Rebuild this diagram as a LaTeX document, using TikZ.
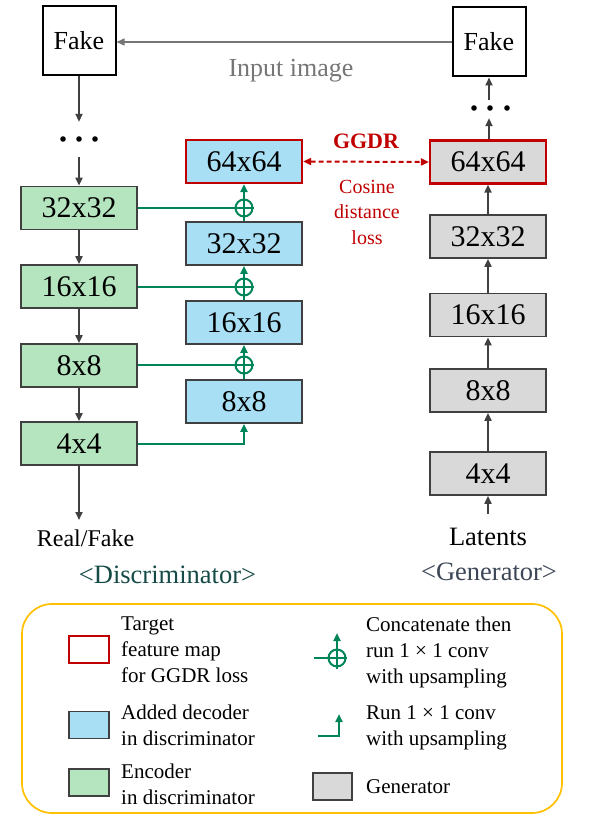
\documentclass[tikz,border=0pt]{standalone}
\usepackage{fontspec}
\setmainfont{Liberation Serif}
\usetikzlibrary{arrows.meta}
\definecolor{bord}{HTML}{404040}
\definecolor{gfill}{HTML}{B5E5BE}
\definecolor{bfill}{HTML}{A9DFF5}
\definecolor{rfill}{HTML}{D9D9D9}
\definecolor{redc}{HTML}{C00000}
\definecolor{grn}{HTML}{00845A}
\definecolor{legc}{HTML}{FFC000}
\definecolor{inpc}{HTML}{767676}
\definecolor{discc}{HTML}{154A46}
\definecolor{genc}{HTML}{3C4656}
\tikzset{
  blk/.style={draw=bord, line width=1.7pt, minimum width=116pt, minimum height=43pt, inner sep=0pt,
    font=\fontsize{30}{36}\selectfont},
  gbox/.style={blk, fill=gfill},
  bbox/.style={blk, fill=bfill},
  rbox/.style={blk, fill=rfill},
  tgt/.style={draw=redc, line width=2.2pt},
  fakebox/.style={draw=black, line width=2pt, minimum width=73pt, minimum height=69pt, inner sep=0pt,
    font=\fontsize{26}{30}\selectfont, fill=white},
  darr/.style={draw=bord, line width=1.8pt, -{Triangle[length=8pt,width=7pt]}},
  garr/.style={draw=grn, line width=2pt, -{Triangle[length=8pt,width=7pt]}},
  gline/.style={draw=grn, line width=2pt},
  oplus/.style={circle, draw=grn, line width=2pt, minimum size=17pt, inner sep=0pt},
  dotsnode/.style={inner sep=0pt, minimum width=40pt},
  legtxt/.style={anchor=west, inner sep=0pt, align=left, font=\fontsize{21}{26}\selectfont},
  legbox/.style={draw=bord, line width=1.7pt, minimum width=40pt, minimum height=27pt, inner sep=0pt},
}
\begin{document}
\begin{tikzpicture}[x=1pt,y=-1pt]
\useasboundingbox (0,0) rectangle (597,832);
% Fake boxes
\node[fakebox] (fl) at (79,41) {Fake};
\node[fakebox] (fr) at (489,42) {Fake};
\draw[draw=inpc, line width=1.4pt, -{Triangle[length=8pt,width=7pt]}] (fr.west) -- (fl.east |- fr.west);
\node[font=\fontsize{26}{30}\selectfont, text=inpc] (inp) at (291,71) {Input image};
% dots
\node[dotsnode, minimum height=35pt] (dl) at (79,139.5) {};
\foreach \dx in {-16,0,16} \fill (79+\dx,139) circle (2.8pt);
\node[dotsnode, minimum height=18pt] (dr) at (489,109) {};
\foreach \dx in {-16,0,17} \fill (490+\dx,108) circle (2.8pt);
% encoder
\node[gbox] (g32) at (79,208) {32x32};
\node[gbox] (g16) at (79,286.5) {16x16};
\node[gbox] (g8) at (79,365.5) {8x8};
\node[gbox] (g4) at (79,443.5) {4x4};
% decoder
\node[bbox, tgt] (b64) at (244,161.5) {64x64};
\node[bbox] (b32) at (244,243.5) {32x32};
\node[bbox] (b16) at (244,322.5) {16x16};
\node[bbox] (b8) at (244,401.5) {8x8};
% generator
\node[rbox, tgt] (r64) at (488,162) {64x64};
\node[rbox] (r32) at (488,236.5) {32x32};
\node[rbox] (r16) at (488,315) {16x16};
\node[rbox] (r8) at (488,390.5) {8x8};
\node[rbox] (r4) at (488,473.5) {4x4};
% discriminator arrows
\draw[darr] (fl.south) -- (dl.north);
\draw[darr] (dl.south) -- (g32.north);
\draw[darr] (g32.south) -- (g16.north);
\draw[darr] (g16.south) -- (g8.north);
\draw[darr] (g8.south) -- (g4.north);
\coordinate (rfa) at (79,520);
\draw[darr] (g4.south) -- (rfa);
% generator arrows
\coordinate (lat) at (488,514);
\draw[darr] (lat) -- (r4.south);
\draw[darr] (r4.north) -- (r8.south);
\draw[darr] (r8.north) -- (r16.south);
\draw[darr] (r16.north) -- (r32.south);
\draw[darr] (r32.north) -- (r64.south);
\draw[darr] (r64.north -| dr.south) -- (dr.south);
\draw[darr] (dr.north) -- (fr.south -| dr.north);
% skip connections
\node[oplus] (c1) at (244,208) {};
\node[oplus] (c2) at (244,287) {};
\node[oplus] (c3) at (244,365) {};
\draw[gline] (g32.east) -- (c1.east);
\draw[gline] (g16.east |- c2) -- (c2.east);
\draw[gline] (g8.east |- c3) -- (c3.east);
\draw[garr] (b32.north) -- (b64.south);
\draw[garr] (b16.north) -- (b32.south);
\draw[garr] (b8.north) -- (b16.south);
\draw[garr] (g4.east) -| (b8.south);
% GGDR
\draw[draw=redc, line width=2pt, dash pattern=on 5pt off 3pt,
  {Triangle[length=8pt,width=7pt]}-{Triangle[length=8pt,width=7pt]}] (b64.east) -- (r64.west);
\node[text=redc, font=\fontsize{22}{26}\selectfont\bfseries] (ggdr) at (366,141) {GGDR};
\node[text=redc, align=center, font=\fontsize{20}{25.5}\selectfont] (cos) at (367,212) {Cosine\\distance\\loss};
% labels
\node[font=\fontsize{24}{28}\selectfont] (rf) at (85.5,538) {Real/Fake};
\node[font=\fontsize{26.5}{30}\selectfont] (latn) at (488,537) {Latents};
\node[font=\fontsize{26.5}{30}\selectfont, text=discc] (dlab) at (167.5,575) {<Discriminator>};
\node[font=\fontsize{26.5}{30}\selectfont, text=genc] (glab) at (489,572) {<Generator>};
% legend
\draw[draw=legc, line width=1.7pt, rounded corners=30pt] (22,604) rectangle (562,813);
\node[legbox, draw=redc, line width=2pt] (lr) at (89,649.5) {};
\node[legtxt] (lrt) at (121,650) {Target\\feature map\\for GGDR loss};
\node[legbox, fill=bfill] (lb) at (89,725) {};
\node[legtxt] (lbt) at (121,725) {Added decoder\\in discriminator};
\node[legbox, fill=gfill] (lg) at (89,782.5) {};
\node[legtxt] (lgt) at (121,784.5) {Encoder\\in discriminator};
\node[oplus] (lc) at (337,658) {};
\coordinate (lch) at (314,658);
\coordinate (lcb) at (337,669);
\coordinate (lct) at (337,633);
\draw[gline] (lch) -- (lc.east);
\draw[garr] (lcb) -- (lct);
\node[legtxt] (lct1) at (366,652.5) {Concatenate then\\run 1 × 1 conv\\with upsampling};
\coordinate (la) at (318,736);
\coordinate (lb2) at (339,714);
\draw[garr] (la) -| (lb2);
\node[legtxt] (lat1) at (366,727.5) {Run 1 × 1 conv\\with upsampling};
\node[legbox, fill=rfill, minimum width=39pt] (lgr) at (332.5,786.5) {};
\node[legtxt] (lgrt) at (366,787) {Generator};
\end{tikzpicture}
\end{document}
